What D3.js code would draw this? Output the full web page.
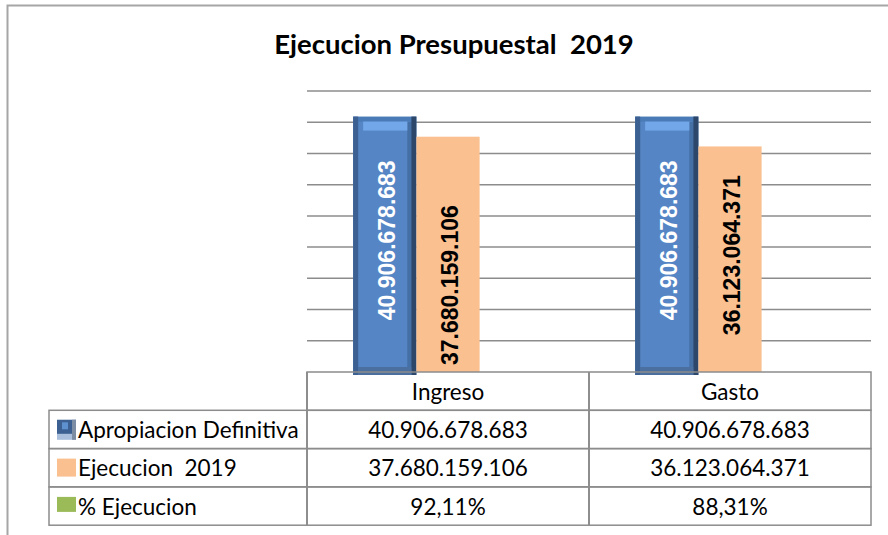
<!DOCTYPE html>
<html>
<head>
<meta charset="utf-8">
<script src="https://cdn.jsdelivr.net/npm/d3@7"></script>
<style>
body { margin: 0; background: #fff; }
text { font-family: Lato, "Open Sans", sans-serif; fill: #000; }
</style>
</head>
<body>
<svg width="888" height="535"></svg>
<script>
var categories = ["Ingreso", "Gasto"];
var seriesNames = ["Apropiacion Definitiva", "Ejecucion  2019", "% Ejecucion"];
var apropiacion = [40906678683, 40906678683];
var ejecucion = [37680159106, 36123064371];
var porcentaje = [0.9211, 0.8831];
var seriesColors = ["#4f81bd", "#fac090", "#9bbb59"];
// where the value label sits inside the bar, per category for each series
var labelPlace = [["center", "center"], ["base", "center"]];

var svg = d3.select("svg"),
    plot = { left: 307, right: 871, top: 91, base: 372 },
    rowH = 38.3,
    tableLeft = 49;

var loc = d3.formatLocale({ decimal: ",", thousands: ".", grouping: [3], currency: ["$", ""] });
var fmtNum = loc.format(",d"),
    fmtPct = loc.format(".2%");

var x = d3.scaleBand()
    .domain(categories)
    .range([plot.left, plot.right]);

var x1 = d3.scaleBand()
    .domain(seriesNames)
    .range([0, x.bandwidth()])
    .paddingOuter(0.73);

var y = d3.scaleLinear()
    .domain([0, 45e9])
    .range([plot.base, plot.top]);

// outer frame
svg.append("rect")
    .attr("x", 7.5).attr("y", 5.5)
    .attr("width", 900).attr("height", 560)
    .attr("fill", "none")
    .attr("stroke", "#a6a6a6")
    .attr("stroke-width", 2);

// title
svg.append("text")
    .attr("x", 454).attr("y", 54)
    .attr("text-anchor", "middle")
    .style("font-size", "27.5px")
    .style("font-weight", "bold")
    .style("white-space", "pre")
    .text("Ejecucion Presupuestal  2019");

// gridlines
svg.append("g")
    .selectAll("line")
    .data(y.ticks(9).filter(function(d) { return d > 0; }))
    .enter()
    .append("line")
    .attr("x1", plot.left).attr("x2", plot.right)
    .attr("y1", function(d) { return y(d); })
    .attr("y2", function(d) { return y(d); })
    .attr("stroke", "#8c8c8c")
    .attr("stroke-width", 1.5);

var rows = categories.map(function(c, i) {
    return [
        { cat: c, i: i, s: 0, value: apropiacion[i] },
        { cat: c, i: i, s: 1, value: ejecucion[i] },
        { cat: c, i: i, s: 2, value: porcentaje[i] }
    ];
});

var groups = svg.selectAll(".cat")
    .data(rows)
    .enter()
    .append("g")
    .attr("class", "cat")
    .attr("transform", function(d) { return "translate(" + x(d[0].cat) + ",0)"; });

// bevelled blue bar like excel's preset
function blueBar(g, bx, w, top, base) {
    g.append("rect").attr("x", bx).attr("y", top).attr("width", w).attr("height", base + 3 - top).attr("fill", "#4a7bb7");
    g.append("rect").attr("x", bx + 5).attr("y", top + 5).attr("width", w - 14).attr("height", base - top - 10).attr("fill", "#5585c5");
    g.append("rect").attr("x", bx + 10).attr("y", top + 5).attr("width", w - 16).attr("height", 9).attr("fill", "#72a8ea");
    g.append("rect").attr("x", bx).attr("y", top).attr("width", 5).attr("height", base + 3 - top).attr("fill", "#3b6091");
    g.append("rect").attr("x", bx + w - 9).attr("y", top + 5).attr("width", 4).attr("height", base - top - 2).attr("fill", "#4570a5");
    g.append("rect").attr("x", bx + w - 5).attr("y", top).attr("width", 5).attr("height", base + 3 - top).attr("fill", "#2c4769");
    g.append("rect").attr("x", bx + 5).attr("y", base - 5).attr("width", w - 10).attr("height", 8).attr("fill", "#4b70a0");
}

groups.each(function(d) {
    var g = d3.select(this);
    d.forEach(function(b) {
        var bx = x1(seriesNames[b.s]), w = x1.bandwidth();
        if (b.s === 0) {
            blueBar(g, bx, w, y(b.value), plot.base);
        } else {
            g.append("rect")
                .attr("x", bx).attr("y", y(b.value))
                .attr("width", w).attr("height", plot.base - y(b.value))
                .attr("fill", seriesColors[b.s]);
        }
    });
});

// value labels, rotated
groups.selectAll(".lbl")
    .data(function(d) { return d.slice(0, 2); })
    .enter()
    .append("text")
    .attr("class", "lbl")
    .attr("transform", function(d) {
        var cx = x1(seriesNames[d.s]) + x1.bandwidth() / 2 + 2;
        var place = labelPlace[d.s][d.i];
        var cy = place === "base" ? plot.base - 7 : (y(d.value) + plot.base) / 2 - 4;
        return "translate(" + cx + "," + cy + ")rotate(-90)";
    })
    .attr("text-anchor", function(d) { return labelPlace[d.s][d.i] === "base" ? "start" : "middle"; })
    .attr("dominant-baseline", "central")
    .style("font-family", "'Liberation Sans', Arial, sans-serif")
    .style("font-weight", "bold")
    .style("font-size", "23px")
    .style("fill", function(d) { return d.s === 0 ? "#fff" : "#000"; })
    .text(function(d) { return fmtNum(d.value); });

// data table
var table = svg.append("g");
var tableVals = [apropiacion.map(fmtNum), ejecucion.map(fmtNum), porcentaje.map(fmtPct)];
var lineCol = "#8c8c8c";

// header row
table.append("rect")
    .attr("x", plot.left).attr("y", plot.base)
    .attr("width", plot.right - plot.left).attr("height", rowH)
    .attr("fill", "none").attr("stroke", lineCol).attr("stroke-width", 1.5);

table.selectAll(".hdr")
    .data(categories)
    .enter()
    .append("text")
    .attr("x", function(d) { return x(d) + x.bandwidth() / 2; })
    .attr("y", plot.base + rowH / 2)
    .attr("text-anchor", "middle")
    .attr("dominant-baseline", "central")
    .style("font-size", "22.5px")
    .text(function(d) { return d; });

// body rows
seriesNames.forEach(function(name, r) {
    var top = plot.base + rowH * (r + 1);
    table.append("rect")
        .attr("x", tableLeft).attr("y", top)
        .attr("width", plot.right - tableLeft).attr("height", rowH)
        .attr("fill", "none").attr("stroke", lineCol).attr("stroke-width", 1.5);

    // legend key
    if (r === 0) {
        table.append("rect").attr("x", 57).attr("y", top + 9.5).attr("width", 19).attr("height", 20).attr("fill", "#a9bfdc");
        table.append("rect").attr("x", 57).attr("y", top + 9.5).attr("width", 19).attr("height", 14).attr("fill", "#3b6091");
        table.append("rect").attr("x", 62).attr("y", top + 12).attr("width", 6).attr("height", 7).attr("fill", "#5e91d0");
        table.append("rect").attr("x", 72).attr("y", top + 9.5).attr("width", 4).attr("height", 20).attr("fill", "#7d8da3");
    } else {
        table.append("rect")
            .attr("x", 57).attr("y", top + 10)
            .attr("width", 19).attr("height", r === 1 ? 18 : 15)
            .attr("fill", seriesColors[r]);
    }

    table.append("text")
        .attr("x", 78).attr("y", top + rowH / 2)
        .attr("dominant-baseline", "central")
        .style("font-size", "22.5px")
        .style("white-space", "pre")
        .text(name);

    categories.forEach(function(c, i) {
        table.append("line")
            .attr("x1", x(c)).attr("x2", x(c))
            .attr("y1", plot.base).attr("y2", plot.base + rowH * 4)
            .attr("stroke", lineCol).attr("stroke-width", 1.5);
        table.append("text")
            .attr("x", x(c) + x.bandwidth() / 2)
            .attr("y", top + rowH / 2)
            .attr("text-anchor", "middle")
            .attr("dominant-baseline", "central")
            .style("font-size", "22.5px")
            .text(tableVals[r][i]);
    });
});
</script>
</body>
</html>
